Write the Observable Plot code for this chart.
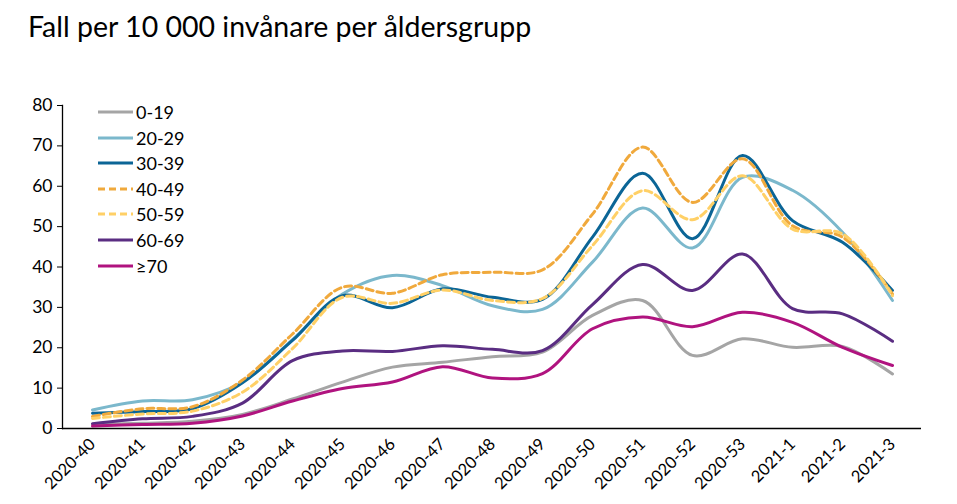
<!DOCTYPE html>
<html>
<head>
<meta charset="utf-8">
<script src="https://cdn.jsdelivr.net/npm/d3@7"></script>
<script src="https://cdn.jsdelivr.net/npm/@observablehq/plot@0.6"></script>
<style>
  html, body { margin: 0; padding: 0; background: #fff; }
  #wrap { position: relative; width: 957px; height: 504px; font-family: Lato, "Open Sans", sans-serif; color: #000; }
  #title { position: absolute; left: 28px; top: 9px; font-size: 28.5px; white-space: nowrap; }
  #chart { position: absolute; left: 0; top: 60px; }
  #legend { position: absolute; left: 98px; top: 100px; }
  .item { position: absolute; left: 0; height: 24px; display: flex; align-items: center; font-size: 18px; white-space: nowrap; }
  .item svg { margin-right: 3px; }
</style>
</head>
<body>
<div id="wrap">
  <div id="title">Fall per 10 000 invånare per åldersgrupp</div>
  <div id="chart"></div>
  <div id="legend"></div>
</div>
<script>
const weeks = ["2020-40","2020-41","2020-42","2020-43","2020-44","2020-45","2020-46","2020-47","2020-48","2020-49","2020-50","2020-51","2020-52","2020-53","2021-1","2021-2","2021-3"];
const groups = ["0-19","20-29","30-39","40-49","50-59","60-69","≥70"];
const yTicks = [0,10,20,30,40,50,60,70,80];

const g0_19  = [1.0, 1.3, 1.8, 3.5, 7.3, 11.5, 15.2, 16.4, 17.8, 18.9, 28.0, 31.7, 18.1, 22.2, 20.1, 20.3, 13.5];
const g20_29 = [4.6, 6.8, 7.1, 11.5, 22.0, 33.3, 37.9, 35.4, 30.4, 29.5, 41.2, 54.6, 44.7, 62.2, 59.0, 48.6, 31.7];
const g30_39 = [3.8, 4.2, 4.9, 11.3, 21.8, 32.9, 29.9, 34.6, 32.5, 32.0, 47.4, 63.2, 47.0, 67.6, 51.5, 46.1, 34.2];
const g40_49 = [3.0, 4.9, 5.4, 12.0, 23.4, 35.0, 33.5, 38.1, 38.7, 39.3, 53.1, 69.7, 56.0, 66.8, 50.2, 47.4, 33.3];
const g50_59 = [2.5, 3.6, 4.3, 9.0, 19.8, 32.5, 31.0, 34.3, 31.7, 32.2, 45.3, 58.9, 51.7, 62.6, 49.4, 48.2, 32.9];
const g60_69 = [1.2, 2.4, 3.0, 6.3, 16.8, 19.2, 19.1, 20.5, 19.6, 19.3, 30.7, 40.6, 34.2, 43.2, 29.7, 28.4, 21.6];
const g70    = [0.6, 1.0, 1.3, 3.1, 6.8, 9.9, 11.5, 15.3, 12.5, 13.6, 24.7, 27.6, 25.2, 28.8, 26.3, 20.1, 15.6];

const seriesValues = [g0_19, g20_29, g30_39, g40_49, g50_59, g60_69, g70];
const colors = ["#A5A5A5", "#7BB8CC", "#0B6596", "#F0A93C", "#FFD066", "#5A2D82", "#B0137F"];
const dashes = [null, null, null, "7,4", "7,4", null, null];

const data = [];
groups.forEach((g, gi) => seriesValues[gi].forEach((v, i) => data.push({group: g, week: weeks[i], value: v})));

const plot = Plot.plot({
  width: 957,
  height: 444,
  marginTop: 45,
  marginBottom: 76,
  marginLeft: 62,
  marginRight: 36,
  style: {fontFamily: "Lato, 'Open Sans', sans-serif", fontSize: "17px", color: "#000", background: "#fff"},
  x: {type: "point", domain: weeks, padding: 0.5, label: null},
  y: {domain: [0, 80], label: null},
  marks: [
    Plot.axisY({ticks: yTicks, tickSize: 5, tickPadding: 5, label: null, fontSize: 17.5, stroke: "#000"}),
    Plot.axisX({tickRotate: -45, tickSize: 0, tickPadding: 13, label: null, fontSize: 16.5}),
    ...groups.map((g, gi) => Plot.line(data.filter(d => d.group === g), {
      x: "week", y: "value", stroke: colors[gi], strokeWidth: 3,
      strokeDasharray: dashes[gi] || undefined, curve: "catmull-rom"
    })),
    Plot.ruleY([0], {stroke: "#000", strokeWidth: 1.3}),
    Plot.frame({anchor: "left", stroke: "#000", strokeWidth: 1.3})
  ]
});
document.getElementById("chart").appendChild(plot);

const legend = document.getElementById("legend");
groups.forEach((g, gi) => {
  const item = document.createElement("div");
  item.className = "item";
  item.style.top = (gi * 25.6) + "px";
  item.innerHTML = `<svg width="35" height="6"><line x1="0" x2="35" y1="3" y2="3" stroke="${colors[gi]}" stroke-width="3" ${dashes[gi] ? `stroke-dasharray="${dashes[gi]}"` : ""}/></svg><span>${g}</span>`;
  legend.appendChild(item);
});
</script>
</body>
</html>
